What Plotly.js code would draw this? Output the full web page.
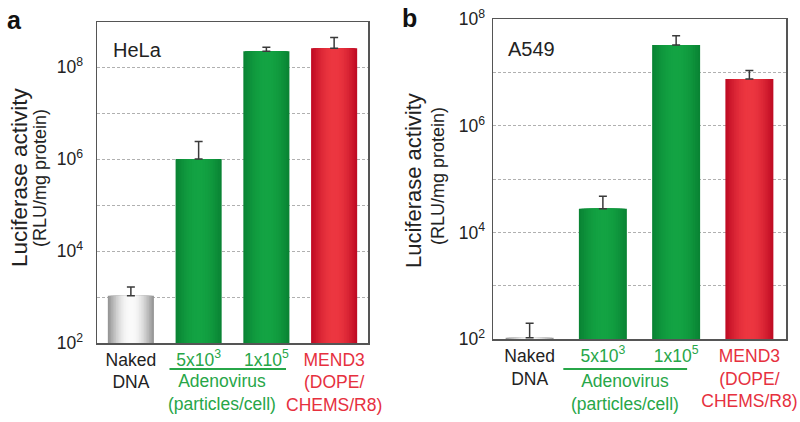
<!DOCTYPE html>
<html>
<head>
<meta charset="utf-8">
<script src="https://cdn.plot.ly/plotly-3.0.1.min.js"></script>
<style>html,body{margin:0;padding:0;background:#fff;}#chart{width:800px;height:422px;}</style>
</head>
<body>
<div id="chart"></div>
<script>
// ---- data ----
const categories = ['Naked DNA', '5x10^3', '1x10^5', 'MEND3'];
const tickLabels = ['Naked<br>DNA', '5x10<sup>3</sup>', '1x10<sup>5</sup>', 'MEND3<br>(DOPE/<br>CHEMS/R8)'];
const helaValues = [1070, 1.0e6, 2.2e8, 2.55e8];
const helaErrPlus = [580, 1.4e6, 0.5e8, 1.85e8];
const a549Values = [107, 2.8e4, 3.3e7, 7.6e6];
const a549ErrPlus = [93, 2.0e4, 1.6e7, 3.4e6];
const yTickVals = [1e2, 1e4, 1e6, 1e8];
const yTickText = ['10<sup>2</sup>', '10<sup>4</sup>', '10<sup>6</sup>', '10<sup>8</sup>'];
const yMinorVals = [1e3, 1e5, 1e7];

// ---- style ----
const FONT = 'Liberation Sans, Arial, Helvetica, sans-serif';
const GREEN_TXT = '#27a648';
const RED_TXT = '#e6303e';
const labelColors = ['#222', GREEN_TXT, GREEN_TXT, RED_TXT];
// edge and centre colours of each bar (gradient look)
const edgeColors = [[150, 150, 150], [10, 132, 52], [10, 132, 52], [192, 12, 36]];
const centreColors = [[250, 250, 250], [19, 163, 67], [19, 163, 67], [236, 54, 64]];
const N_LAYERS = 14;

function mix(a, b, t) {
  return 'rgb(' + a.map((v, i) => Math.round(v + (b[i] - v) * t)).join(',') + ')';
}
function coloredTicks() {
  return tickLabels.map((t, i) => '<span style="color:' + labelColors[i] + '">' + t + '</span>');
}

function panelTraces(values, errPlus, xa, ya, outerWidth) {
  const traces = [];
  for (let li = 0; li < N_LAYERS; li++) {
    const f = li / (N_LAYERS - 1);           // 0 outer .. 1 inner
    const scale = 1 - 0.92 * f;
    const t = Math.sin(f * Math.PI / 2);     // smooth ramp
    const cols = edgeColors.map((e, i) => mix(e, centreColors[i], t));
    const tr = {
      type: 'bar', x: categories, y: values, xaxis: xa, yaxis: ya,
      width: categories.map(() => outerWidth * scale),
      marker: { color: cols, line: { width: 0 } },
      hoverinfo: 'skip', showlegend: false
    };
    if (li === N_LAYERS - 1) {
      tr.error_y = { type: 'data', symmetric: false, array: errPlus, arrayminus: categories.map(() => 0),
        color: '#3a3a3a', thickness: 1.5, width: 4 };
    }
    traces.push(tr);
  }
  return traces;
}

const data = [].concat(
  panelTraces(helaValues, helaErrPlus, 'x', 'y', 0.68),
  panelTraces(a549Values, a549ErrPlus, 'x2', 'y2', 0.655)
);

const W = 800, H = 422;
const px = v => v / W;
const py = v => 1 - v / H;

function yAxis(range, domain, standoff) {
  return {
    type: 'log', range: range, domain: domain,
    tickvals: yTickVals, ticktext: yTickText, ticks: '',
    ticklabelstandoff: standoff,
    tickfont: { family: FONT, size: 17.5, color: '#222' },
    showgrid: true, gridcolor: '#b0b0b0', griddash: '3px,2px', gridwidth: 1,
    minor: { tickvals: yMinorVals, showgrid: true, gridcolor: '#b0b0b0', griddash: '3px,2px', gridwidth: 1, ticks: '' },
    showline: true, mirror: true, linecolor: '#555', linewidth: 1.5,
    zeroline: false, fixedrange: true
  };
}
function xAxis(domain, anchor) {
  return {
    type: 'category', domain: domain, anchor: anchor, range: [-0.5, 3.5],
    tickvals: categories, ticktext: coloredTicks(), ticks: '', tickangle: 0,
    tickfont: { family: FONT, size: 17.5, color: '#222' },
    showgrid: false, showline: true, mirror: true, linecolor: '#555', linewidth: 1.5,
    zeroline: false, fixedrange: true
  };
}

const layout = {
  width: W, height: H,
  margin: { l: 0, r: 0, t: 0, b: 0 },
  paper_bgcolor: '#fff', plot_bgcolor: '#fff',
  barmode: 'overlay', showlegend: false,
  font: { family: FONT, color: '#222' },
  xaxis: xAxis([px(97), px(368)], 'y'),
  yaxis: yAxis([2, 8.98], [py(343), py(22)], 9),
  xaxis2: xAxis([px(493), px(786)], 'y2'),
  yaxis2: Object.assign(yAxis([2, 8], [py(339.3), py(19.3)], 3), { anchor: 'x2' }),
  shapes: [
    { type: 'line', xref: 'x', yref: 'paper', x0: 0.57, x1: 2.29, y0: py(369), y1: py(369), line: { color: GREEN_TXT, width: 2 } },
    { type: 'line', xref: 'x2', yref: 'paper', x0: 0.46, x1: 2.15, y0: py(369), y1: py(369), line: { color: GREEN_TXT, width: 2 } }
  ],
  annotations: [
    { text: '<b>a</b>', xref: 'paper', yref: 'paper', x: px(14.5), y: py(20), xanchor: 'center', yanchor: 'middle', showarrow: false, font: { family: FONT, size: 25, color: '#111' } },
    { text: '<b>b</b>', xref: 'paper', yref: 'paper', x: px(409), y: py(18), xanchor: 'center', yanchor: 'middle', showarrow: false, font: { family: FONT, size: 25, color: '#111' } },
    { text: 'HeLa', xref: 'paper', yref: 'paper', x: px(111), y: py(50), xanchor: 'left', yanchor: 'middle', showarrow: false, font: { family: FONT, size: 20, color: '#222' } },
    { text: 'A549', xref: 'paper', yref: 'paper', x: px(506), y: py(49), xanchor: 'left', yanchor: 'middle', showarrow: false, font: { family: FONT, size: 20, color: '#222' } },
    { text: 'Luciferase activity', xref: 'paper', yref: 'paper', x: px(20), y: py(177), textangle: -90, xanchor: 'center', yanchor: 'middle', showarrow: false, font: { family: FONT, size: 22.5, color: '#222' } },
    { text: '(RLU/mg protein)', xref: 'paper', yref: 'paper', x: px(40), y: py(178), textangle: -90, xanchor: 'center', yanchor: 'middle', showarrow: false, font: { family: FONT, size: 18, color: '#222' } },
    { text: 'Luciferase activity', xref: 'paper', yref: 'paper', x: px(414), y: py(180), textangle: -90, xanchor: 'center', yanchor: 'middle', showarrow: false, font: { family: FONT, size: 22, color: '#222' } },
    { text: '(RLU/mg protein)', xref: 'paper', yref: 'paper', x: px(438), y: py(176), textangle: -90, xanchor: 'center', yanchor: 'middle', showarrow: false, font: { family: FONT, size: 18, color: '#222' } },
    { text: 'Adenovirus<br>(particles/cell)', xref: 'paper', yref: 'paper', x: px(221.5), y: py(392.5), xanchor: 'center', yanchor: 'middle', showarrow: false, font: { family: FONT, size: 17.5, color: GREEN_TXT } },
    { text: 'Adenovirus<br>(particles/cell)', xref: 'paper', yref: 'paper', x: px(625), y: py(392.5), xanchor: 'center', yanchor: 'middle', showarrow: false, font: { family: FONT, size: 17.5, color: GREEN_TXT } }
  ]
};

Plotly.newPlot('chart', data, layout, { staticPlot: true, displayModeBar: false });
</script>
</body>
</html>
